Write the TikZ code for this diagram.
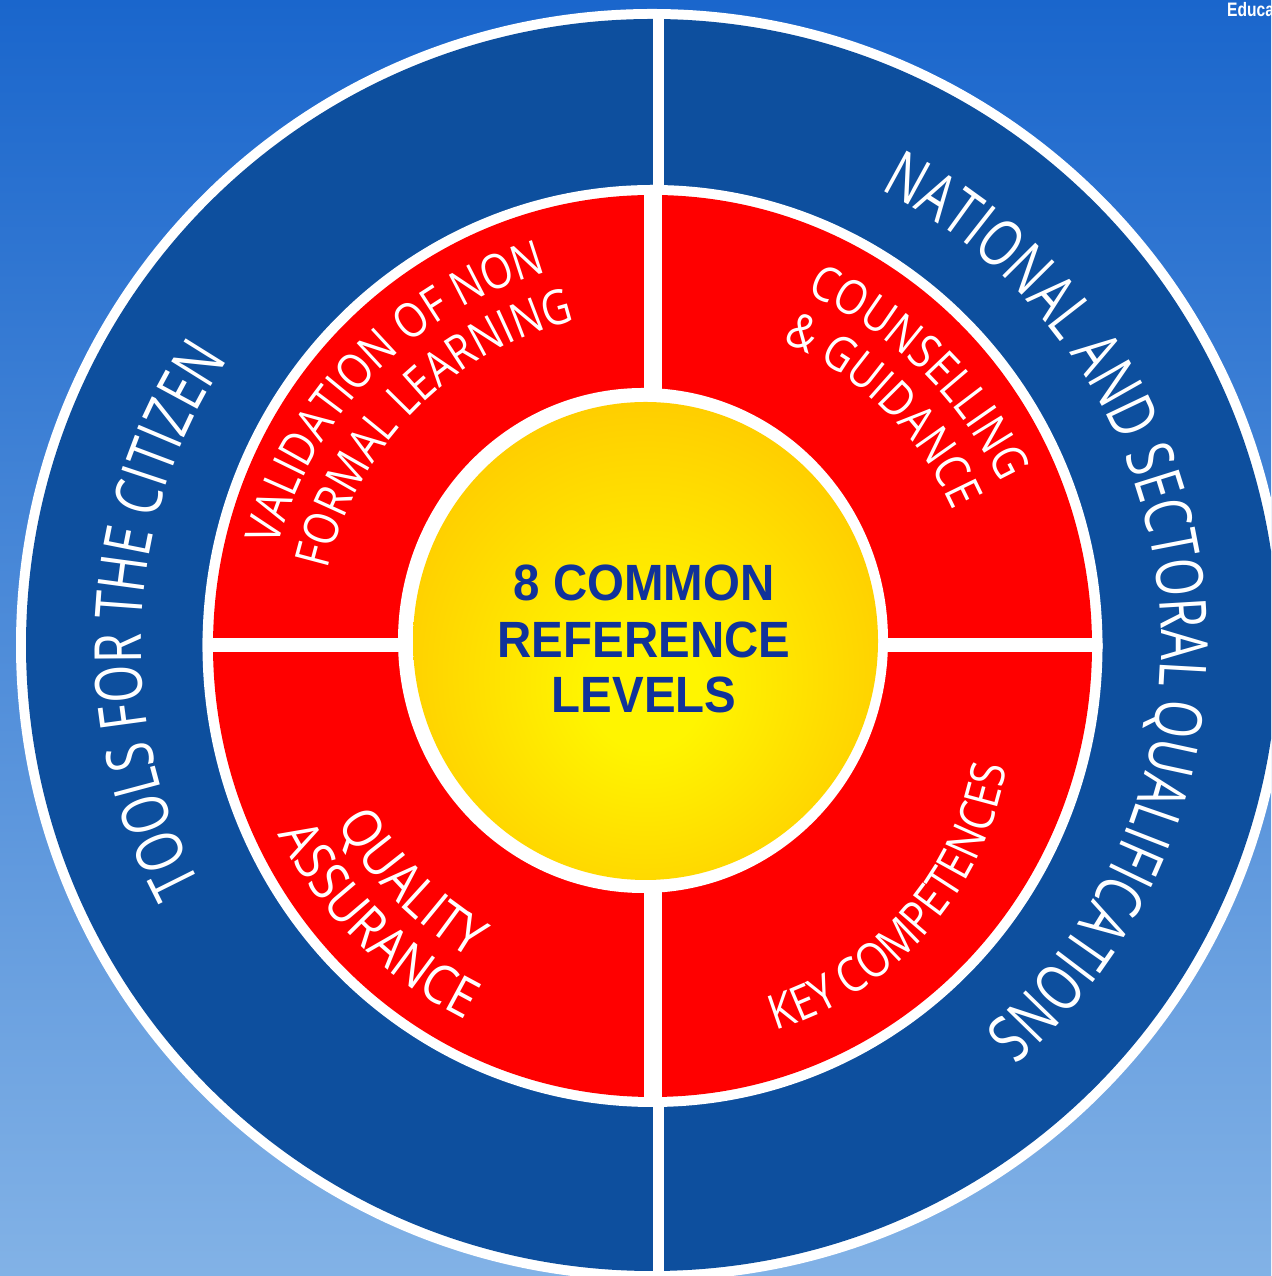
\documentclass[tikz,border=0pt]{standalone}
\usepackage{fontspec}
\setmainfont{Liberation Sans}
\newfontfamily\outerfont[FakeStretch=0.75]{Open Sans}
\newfontfamily\redfont[FakeStretch=0.85]{Open Sans}
\newfontfamily\qafont[FakeStretch=0.88]{Open Sans}
\newfontfamily\centerfont[FakeStretch=0.93]{Liberation Sans}
\newfontfamily\educafont[FakeStretch=0.8]{Liberation Sans}
\usetikzlibrary{decorations.text}
\definecolor{bgtop}{HTML}{1A66CC}
\definecolor{bgbot}{HTML}{82B2E6}
\definecolor{ringblue}{HTML}{0D4F9E}
\definecolor{redq}{HTML}{FF0000}
\definecolor{sunA}{HTML}{FFF500}
\definecolor{sunB}{HTML}{FFC800}
\definecolor{txtblue}{HTML}{10329A}
\pgfdeclareradialshading{sunshade}{\pgfpoint{0bp}{-6bp}}{color(0bp)=(sunA); color(6bp)=(sunA); color(31bp)=(sunB); color(50bp)=(sunB)}
\tikzset{
  ringtext/.style={decorate, decoration={text along path, text align=center, text color=white, text={#1}}},
  centertext/.style={anchor=base, inner sep=0pt, text=txtblue, font=\centerfont\bfseries\fontsize{51}{51}\selectfont},
}
\begin{document}
\begin{tikzpicture}[x=1pt,y=1pt]
\useasboundingbox (0,0) rectangle (1271,1276);
\clip (0,0) rectangle (1271,1276);
\shade[top color=bgtop, bottom color=bgbot] (0,0) rectangle (1271,1276);
% outer ring
\fill[white] (652,631) circle[radius=636];
\fill[ringblue] (652,631) circle[radius=626];
\begin{scope}
  \clip (652,631) circle[radius=630];
  \fill[white] (652.5,0) rectangle (663.5,1276);
\end{scope}
% red ring
\fill[white] (652.5,630) ellipse[x radius=450, y radius=461];
\fill[redq] (652.5,630) ellipse[x radius=439.5, y radius=451];
\begin{scope}
  \clip (652.5,630) ellipse[x radius=450, y radius=461];
  \fill[white] (644,0) rectangle (662,1276);
  \fill[white] (0,624) rectangle (1271,638);
\end{scope}
% centre
\fill[white] (643,635.5) ellipse[x radius=245, y radius=252.5];
\shade[shading=sunshade] (645.5,635) ellipse[x radius=232.5, y radius=239];
\node[centertext] (l1) at (644,675) {8 COMMON};
\node[centertext] (l2) at (644,618) {REFERENCE};
\node[centertext] (l3) at (644,563) {LEVELS};
% ring texts
\begin{scope}[shift={(652,631)}]
  \path[ringtext={|\outerfont\fontsize{65}{65}\selectfont|TOOLS FOR THE CITIZEN}] (222:511) arc[start angle=222, end angle=132, radius=511];
  \path[ringtext={|\outerfont\fontsize{65}{65}\selectfont|NATIONAL AND SECTORAL QUALIFICATIONS}] (82:509) arc[start angle=82, end angle=-68, radius=509];
  \path[ringtext={|\redfont\fontsize{48}{48}\selectfont|VALIDATION OF NON}] (175.5:387) arc[start angle=175.5, end angle=95.5, radius=387];
  \path[ringtext={|\redfont\fontsize{48}{48}\selectfont|FORMAL LEARNING}] (180.1:333) arc[start angle=180.1, end angle=90.1, radius=333];
  \path[ringtext={|\redfont\fontsize{48}{48}\selectfont|COUNSELLING}] (85.6:384) arc[start angle=85.6, end angle=5.6, radius=384];
  \path[ringtext={|\redfont\fontsize{48}{48}\selectfont|{\&} GUIDANCE}] (85.4:330) arc[start angle=85.4, end angle=5.4, radius=330];
  \path[ringtext={|\qafont\fontsize{54}{54}\selectfont|QUALITY}] (189.8:362) arc[start angle=189.8, end angle=259.8, radius=362];
  \path[ringtext={|\qafont\fontsize{54}{54}\selectfont|ASSURANCE}] (190.2:419) arc[start angle=190.2, end angle=260.2, radius=419];
\end{scope}
\begin{scope}[shift={(680,563)}]
  \path[ringtext={|\redfont\fontsize{48}{48}\selectfont|KEY COMPETENCES}] (278.75:331) arc[start angle=278.75, end angle=358.75, radius=331];
\end{scope}
\node[anchor=base west, inner sep=0pt, text=white, font=\educafont\bfseries\fontsize{19.5}{19.5}\selectfont] (educa) at (1227,1259) {Educa};
\end{tikzpicture}
\end{document}
